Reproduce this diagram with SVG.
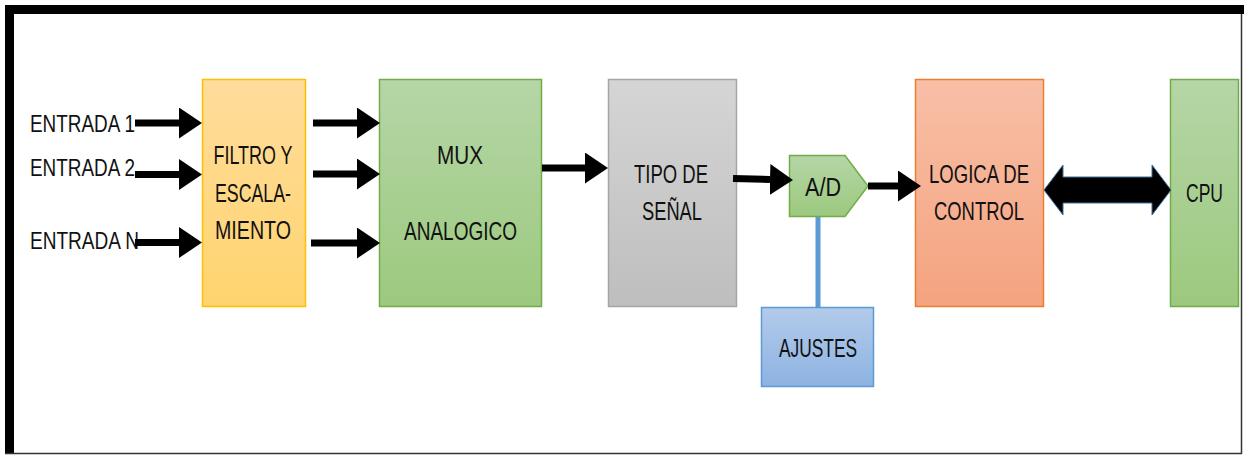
<svg xmlns="http://www.w3.org/2000/svg" width="1244" height="456" viewBox="0 0 1244 456">
  <style>
    .lbl { font-family: "Liberation Sans", Arial, sans-serif; font-size: 25px; fill: #111; text-anchor: middle; }
    .in { font-family: "Liberation Sans", Arial, sans-serif; font-size: 23px; fill: #111; }
    .box { stroke-width: 1.5; }
    .wire { stroke: #000; stroke-width: 7; fill: none; marker-end: url(#head); }
  </style>
  <defs>
    <marker id="head" markerUnits="userSpaceOnUse" viewBox="0 0 23 31" refX="0" refY="15.5" markerWidth="23" markerHeight="31" orient="auto">
      <path d="M0,0 L23,15.5 L0,31 Z" fill="#000"/>
    </marker>
    <linearGradient id="gOrange" x1="0" y1="0" x2="0" y2="1">
      <stop offset="0" stop-color="#FFDC9C"/>
      <stop offset="1" stop-color="#FFD46E"/>
    </linearGradient>
    <linearGradient id="gGreen" x1="0" y1="0" x2="0" y2="1">
      <stop offset="0" stop-color="#B5D6A7"/>
      <stop offset="1" stop-color="#9CC97E"/>
    </linearGradient>
    <linearGradient id="gGray" x1="0" y1="0" x2="0" y2="1">
      <stop offset="0" stop-color="#D5D5D5"/>
      <stop offset="1" stop-color="#BEBEBE"/>
    </linearGradient>
    <linearGradient id="gBlue" x1="0" y1="0" x2="0" y2="1">
      <stop offset="0" stop-color="#B3CBEA"/>
      <stop offset="1" stop-color="#8DB3E2"/>
    </linearGradient>
    <linearGradient id="gSalmon" x1="0" y1="0" x2="0" y2="1">
      <stop offset="0" stop-color="#F8BFA7"/>
      <stop offset="1" stop-color="#F4A37E"/>
    </linearGradient>
  </defs>

  <rect width="1244" height="456" fill="#fff"/>

  <!-- outer frame -->
  <g id="frame">
    <rect x="5" y="5" width="1239" height="9" fill="#000"/>
    <rect x="5" y="5" width="9" height="449" fill="#000"/>
    <line x1="5" y1="453.5" x2="1242" y2="453.5" stroke="#333" stroke-width="1.5"/>
    <line x1="1241.5" y1="14" x2="1241.5" y2="454" stroke="#333" stroke-width="1.5"/>
  </g>

  <!-- input labels -->
  <g id="inputs">
    <text class="in" x="30" y="131.5" textLength="105" lengthAdjust="spacingAndGlyphs">ENTRADA 1</text>
    <text class="in" x="30" y="176" textLength="105" lengthAdjust="spacingAndGlyphs">ENTRADA 2</text>
    <text class="in" x="30" y="249" textLength="109" lengthAdjust="spacingAndGlyphs">ENTRADA N</text>
  </g>

  <g id="filtro">
    <rect class="box" x="202.5" y="79.5" width="103" height="227" fill="url(#gOrange)" stroke="#FFC000"/>
    <text class="lbl" x="253" y="164" textLength="79" lengthAdjust="spacingAndGlyphs">FILTRO Y</text>
    <text class="lbl" x="253" y="202" textLength="76" lengthAdjust="spacingAndGlyphs">ESCALA-</text>
    <text class="lbl" x="253" y="239" textLength="76" lengthAdjust="spacingAndGlyphs">MIENTO</text>
  </g>

  <g id="mux">
    <rect class="box" x="379.5" y="79.5" width="162" height="227" fill="url(#gGreen)" stroke="#70AD47"/>
    <text class="lbl" x="460" y="164" textLength="46" lengthAdjust="spacingAndGlyphs">MUX</text>
    <text class="lbl" x="460.5" y="240" textLength="113" lengthAdjust="spacingAndGlyphs">ANALOGICO</text>
  </g>

  <g id="tipo">
    <rect class="box" x="608.5" y="79.5" width="128" height="227" fill="url(#gGray)" stroke="#A5A5A5"/>
    <text class="lbl" x="671" y="182.5" textLength="74" lengthAdjust="spacingAndGlyphs">TIPO DE</text>
    <text class="lbl" x="672" y="220" textLength="60" lengthAdjust="spacingAndGlyphs">SEÑAL</text>
  </g>

  <g id="ad">
    <path class="box" d="M789.5,155.5 L845,155.5 L868,186 L845,216.5 L789.5,216.5 Z" fill="url(#gGreen)" stroke="#70AD47"/>
    <text class="lbl" x="823" y="196" textLength="36" lengthAdjust="spacingAndGlyphs">A/D</text>
  </g>

  <g id="ajustes">
    <rect class="box" x="761.5" y="307.5" width="112" height="79" fill="url(#gBlue)" stroke="#5B9BD5"/>
    <text class="lbl" x="818" y="357" textLength="78" lengthAdjust="spacingAndGlyphs">AJUSTES</text>
  </g>

  <g id="logica">
    <rect class="box" x="915.5" y="79.5" width="128" height="227" fill="url(#gSalmon)" stroke="#ED7D31"/>
    <text class="lbl" x="979" y="183" textLength="100" lengthAdjust="spacingAndGlyphs">LOGICA DE</text>
    <text class="lbl" x="979" y="220" textLength="90" lengthAdjust="spacingAndGlyphs">CONTROL</text>
  </g>

  <g id="cpu">
    <rect class="box" x="1170.5" y="79.5" width="68" height="227" fill="url(#gGreen)" stroke="#70AD47"/>
    <text class="lbl" x="1204.5" y="202" textLength="37" lengthAdjust="spacingAndGlyphs">CPU</text>
  </g>

  <!-- connectors -->
  <g id="connectors">
    <line class="wire" x1="135" y1="123" x2="179" y2="123"/>
    <line class="wire" x1="135" y1="174.5" x2="179" y2="174.5"/>
    <line class="wire" x1="135" y1="242.5" x2="179" y2="242.5"/>

    <line class="wire" x1="313" y1="123" x2="357" y2="123"/>
    <line class="wire" x1="313" y1="174" x2="357" y2="174"/>
    <line class="wire" x1="311" y1="243" x2="357" y2="243"/>

    <line class="wire" x1="542" y1="168" x2="585" y2="168"/>
    <line class="wire" x1="733" y1="178.5" x2="770" y2="179.5"/>
    <line class="wire" x1="868" y1="186" x2="898" y2="186"/>

    <line x1="818" y1="217" x2="818" y2="307" stroke="#5B9BD5" stroke-width="5"/>

    <path d="M1044,190 L1063,165 L1063,177 L1152,177 L1152,165 L1171,190 L1152,215 L1152,203 L1063,203 L1063,215 Z" fill="#000" stroke="#41719C" stroke-width="1"/>
  </g>
</svg>
